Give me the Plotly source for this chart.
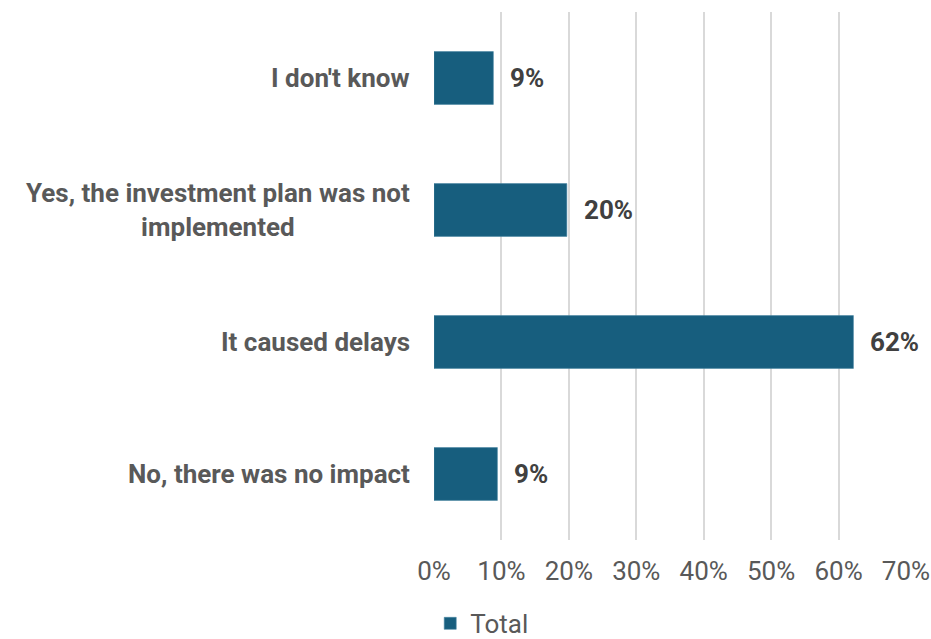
import plotly.graph_objects as go

categories = ["I don't know", "Yes, the investment plan was not<br>implemented",
              "It caused delays", "No, there was no impact"]
values = [8.8, 19.7, 62.2, 9.4]
x_ticks = [0, 10, 20, 30, 40, 50, 60, 70]
x_tick_labels = ["0%", "10%", "20%", "30%", "40%", "50%", "60%", "70%"]
series_name = "Total"

BAR = "#175E7E"
FONT = "Roboto"
FS = 26

fig = go.Figure()
fig.add_trace(go.Bar(
    x=values, y=categories, orientation="h", name=series_name,
    marker=dict(color=BAR, line=dict(color="#4A86A3", width=0.6)),
    width=0.4, showlegend=True,
))

annotations = []
for c, v in zip(categories, values):
    annotations.append(dict(x=v, y=c, xref="x", yref="y", text=f"<b>{round(v)}%</b>",
                            showarrow=False, xanchor="left", xshift=15,
                            font=dict(family=FONT, size=FS, color="#404040")))
    annotations.append(dict(x=0, y=c, xref="paper", yref="y", text=f"<b>{c}</b>",
                            showarrow=False, xanchor="right", align="center", xshift=-22,
                            font=dict(family=FONT, size=FS, color="#595959")))

fig.update_layout(
    width=931, height=639,
    margin=dict(l=434, r=25, t=12, b=99, autoexpand=False),
    paper_bgcolor="white", plot_bgcolor="white",
    font=dict(family=FONT, size=FS, color="#595959"),
    bargap=0.6,
    xaxis=dict(range=[0, 70], tickvals=x_ticks, ticktext=x_tick_labels,
               showgrid=True, gridcolor="#D9D9D9", gridwidth=2, automargin=False,
               zeroline=False, showline=False, ticklabelstandoff=13,
               tickfont=dict(family=FONT, size=FS, color="#595959")),
    yaxis=dict(categoryorder="array", categoryarray=categories, autorange="reversed",
               automargin=False,
               showticklabels=False, showgrid=False, zeroline=False, showline=False),
    legend=dict(orientation="h", x=-0.008, xanchor="left", y=-0.158, yref="paper",
                yanchor="middle", font=dict(family=FONT, size=FS, color="#595959")),
    annotations=annotations,
)

fig.write_html("out.html", config={"displayModeBar": False},
               post_script="document.body.style.margin='0';document.body.style.overflow='hidden';")
